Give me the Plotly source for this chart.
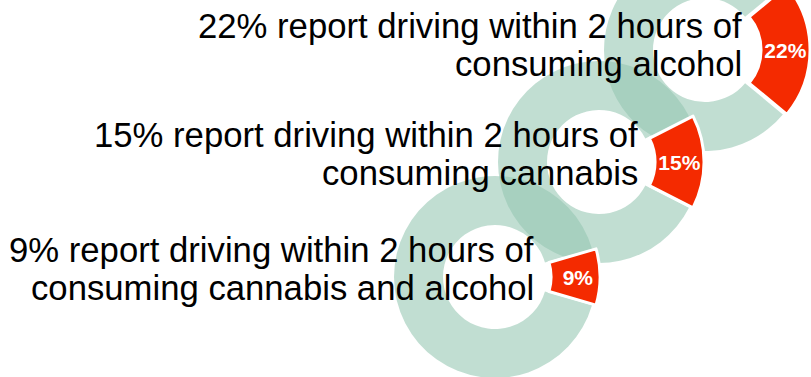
import plotly.graph_objects as go

# ---- data ----
categories = ["alcohol", "cannabis", "cannabis and alcohol"]
percentages = [22, 15, 9]
label_line1 = [
    "22% report driving within 2 hours of",
    "15% report driving within 2 hours of",
    "9% report driving within 2 hours of",
]
label_line2 = [
    "consuming alcohol",
    "consuming cannabis",
    "consuming cannabis and alcohol",
]

# ---- styling / layout constants ----
W, VIEW_H = 811, 377
SHIFT = 56            # how far the figure is scrolled up (top donut is cut by the frame)
H = 442
GREEN = "rgba(149,198,177,0.58)"
RED = "#f42a00"
R_OUT = 101           # donut outer radius (px)
HOLE = 0.515
PULL = 0.04
centers = [(705, 50), (599, 162), (495, 277)]   # donut centres in the visible frame (px)
text_right = [743, 639, 535]
line1_mid = [25.5, 134.5, 250.0]
LINE_GAP = 38.3
FONT = "Arial, Liberation Sans, sans-serif"
FONT_SIZE = 34.7

def clamp(v):
    return min(1.0, max(0.0, v))

fig = go.Figure()
half = R_OUT * (1 + PULL)
for i, p in enumerate(percentages):
    cx, cy = centers[i]
    cyf = cy + SHIFT
    fig.add_trace(go.Pie(
        values=[100 - p, p],
        labels=[f"not {categories[i]}", categories[i]],
        text=["", f"{p}%"],
        textinfo="text",
        textposition="inside",
        insidetextorientation="horizontal",
        textfont=dict(color="white", size=21, family=FONT, weight="bold"),
        marker=dict(colors=[GREEN, RED], line=dict(color="white", width=[0, 3])),
        hole=HOLE,
        pull=[0, PULL],
        sort=False,
        direction="clockwise",
        rotation=90 + 1.8 * p,
        hoverinfo="skip",
        showlegend=False,
        domain=dict(
            x=[clamp((cx - half) / W), clamp((cx + half) / W)],
            y=[clamp(1 - (cyf + half) / H), clamp(1 - (cyf - half) / H)],
        ),
    ))

annotations = []
for i in range(len(percentages)):
    for j, txt in enumerate([label_line1[i], label_line2[i]]):
        ymid = line1_mid[i] + j * LINE_GAP + SHIFT
        annotations.append(dict(
            text=txt, x=(text_right[i] + 1) / W, y=1 - ymid / H,
            xref="paper", yref="paper", xanchor="right", yanchor="middle",
            showarrow=False, align="right",
            font=dict(family=FONT, size=FONT_SIZE, color="black"),
        ))

fig.update_layout(
    width=W, height=H,
    margin=dict(l=0, r=0, t=0, b=0),
    paper_bgcolor="white", plot_bgcolor="white",
    annotations=annotations,
    uniformtext=dict(minsize=20, mode="show"),
)

post = ("var d=document.getElementById('{plot_id}');"
        "d.style.position='relative';d.style.top='-%dpx';"
        "document.body.style.overflow='hidden';document.body.style.margin='0';" % SHIFT)
fig.write_html("out.html", post_script=post, config={"displayModeBar": False})
